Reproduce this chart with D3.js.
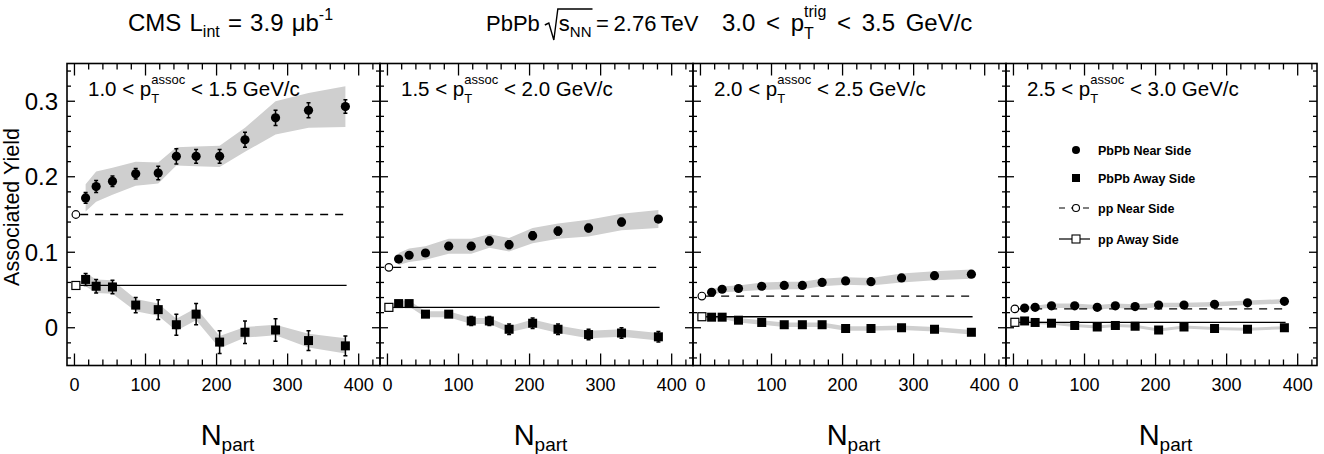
<!DOCTYPE html>
<html>
<head>
<meta charset="utf-8">
<script src="https://cdn.jsdelivr.net/npm/d3@7"></script>
<style>
  body { margin: 0; background: #fff; }
  svg { display: block; font-family: "Liberation Sans", Arial, sans-serif; }
  text { white-space: pre; }
</style>
</head>
<body>
<script>
'use strict';

// centrality bins (N_part) shared by all panels
const npart = [15.7, 30.5, 53.5, 86.2, 117.9, 143.4, 171.2, 204.3, 240.0, 283.0, 329.4, 381.3];
const ppNpart = 2;

const assocLow = ['1.0', '1.5', '2.0', '2.5'];
const assocHigh = ['1.5', '2.0', '2.5', '3.0'];

const nearYield = [
	[0.172, 0.187, 0.194, 0.204, 0.205, 0.227, 0.227, 0.227, 0.249, 0.278, 0.288, 0.293],
	[0.091, 0.096, 0.099, 0.108, 0.108, 0.115, 0.110, 0.122, 0.128, 0.132, 0.140, 0.144],
	[0.047, 0.051, 0.052, 0.055, 0.056, 0.056, 0.060, 0.062, 0.061, 0.066, 0.069, 0.071],
	[0.026, 0.027, 0.029, 0.029, 0.027, 0.029, 0.028, 0.030, 0.030, 0.031, 0.033, 0.035]
];
const nearStat = [
	[0.007, 0.008, 0.007, 0.007, 0.009, 0.010, 0.009, 0.009, 0.010, 0.010, 0.010, 0.009],
	[0.003, 0.003, 0.003, 0.004, 0.004, 0.005, 0.005, 0.005, 0.005, 0.005, 0.005, 0.004],
	[0.002, 0.002, 0.002, 0.002, 0.002, 0.002, 0.002, 0.002, 0.002, 0.002, 0.002, 0.002],
	[0.001, 0.001, 0.001, 0.001, 0.001, 0.001, 0.001, 0.001, 0.001, 0.001, 0.001, 0.001]
];
const nearSys = [
	[0.018, 0.020, 0.018, 0.016, 0.014, 0.012, 0.013, 0.014, 0.016, 0.022, 0.023, 0.027],
	[0.008, 0.009, 0.009, 0.010, 0.010, 0.009, 0.009, 0.010, 0.010, 0.011, 0.011, 0.012],
	[0.004, 0.004, 0.004, 0.005, 0.005, 0.005, 0.005, 0.005, 0.005, 0.006, 0.006, 0.006],
	[0.002, 0.002, 0.003, 0.003, 0.003, 0.003, 0.003, 0.003, 0.003, 0.003, 0.003, 0.003]
];

const awayYield = [
	[0.064, 0.055, 0.054, 0.030, 0.024, 0.004, 0.018, -0.019, -0.006, -0.003, -0.017, -0.024],
	[0.032, 0.032, 0.018, 0.018, 0.009, 0.009, -0.002, 0.006, -0.002, -0.009, -0.007, -0.012],
	[0.014, 0.014, 0.010, 0.007, 0.004, 0.004, 0.004, -0.001, -0.001, 0.000, -0.002, -0.006],
	[0.009, 0.007, 0.006, 0.003, 0.001, 0.003, 0.002, -0.003, 0.001, -0.001, -0.002, 0.000]
];
const awayStat = [
	[0.008, 0.009, 0.009, 0.010, 0.013, 0.014, 0.014, 0.015, 0.015, 0.015, 0.013, 0.013],
	[0.003, 0.003, 0.004, 0.004, 0.006, 0.006, 0.007, 0.007, 0.007, 0.007, 0.007, 0.007],
	[0.002, 0.002, 0.002, 0.002, 0.003, 0.003, 0.003, 0.003, 0.003, 0.003, 0.003, 0.003],
	[0.001, 0.001, 0.001, 0.002, 0.002, 0.002, 0.002, 0.002, 0.002, 0.002, 0.002, 0.002]
];
const awaySys = [
	[0.009, 0.009, 0.009, 0.008, 0.008, 0.008, 0.008, 0.008, 0.007, 0.007, 0.009, 0.010],
	[0.004, 0.004, 0.004, 0.004, 0.004, 0.004, 0.004, 0.005, 0.005, 0.005, 0.005, 0.005],
	[0.002, 0.002, 0.003, 0.003, 0.003, 0.003, 0.003, 0.003, 0.003, 0.003, 0.003, 0.003],
	[0.002, 0.002, 0.002, 0.002, 0.002, 0.002, 0.002, 0.002, 0.002, 0.002, 0.002, 0.002]
];

const ppNear = [0.150, 0.080, 0.042, 0.025];
const ppAway = [0.056, 0.027, 0.0146, 0.0072];

const xTickValues = [0, 100, 200, 300, 400];
const yTickValues = [0, 0.1, 0.2, 0.3];
const legendLabels = ['PbPb Near Side', 'PbPb Away Side', 'pp Near Side', 'pp Away Side'];

;(() => {
	const W = 1324, H = 454;
	const edges = [67, 380, 693, 1006, 1317];
	const top = 63.5, bottom = 365.5;

	const svg = d3.select('body').append('svg')
		.attr('width', W)
		.attr('height', H);

	// measure text widths with a scratch element
	const scratch = svg.append('text').attr('visibility', 'hidden');
	function textWidth(t, size, ws) {
		scratch.attr('font-size', size).style('word-spacing', (ws || 0) + 'px').text(t);
		return scratch.node().getComputedTextLength();
	}

	// parts: array of columns; every column is a list of {t, size, dy} drawn at the same x
	function richText(g, x, y, parts, ws) {
		let cx = x;
		parts.forEach(col => {
			let w = 0;
			col.forEach(p => {
				g.append('text')
					.attr('x', cx)
					.attr('y', y + (p.dy || 0))
					.attr('font-size', p.size)
					.style('word-spacing', (ws || 0) + 'px')
					.text(p.t);
				w = Math.max(w, textWidth(p.t, p.size, ws));
			});
			cx += w;
		});
		return cx;
	}

	const y = d3.scaleLinear().domain([-0.05, 0.35]).range([bottom, top]);

	for (let i = 0; i < 4; i++) {
		const x0 = edges[i], x1 = edges[i + 1];
		const x = d3.scaleLinear().domain([-10.5, 430]).range([x0, x0 + 313]);
		const g = svg.append('g');

		g.append('clipPath').attr('id', 'clip' + i)
			.append('rect').attr('x', x0).attr('y', top).attr('width', x1 - x0).attr('height', bottom - top);
		const plot = g.append('g').attr('clip-path', 'url(#clip' + i + ')');

		const near = npart.map((n, k) => ({ n: n, v: nearYield[i][k], s: nearStat[i][k], e: nearSys[i][k] }));
		const away = npart.map((n, k) => ({ n: n, v: awayYield[i][k], s: awayStat[i][k], e: awaySys[i][k] }));

		const band = d3.area()
			.x(d => x(d.n))
			.y0(d => y(d.v - d.e))
			.y1(d => y(d.v + d.e));

		plot.append('path').datum(near).attr('d', band).attr('fill', '#cfcfcf');
		plot.append('path').datum(away).attr('d', band).attr('fill', '#cfcfcf');

		// pp reference lines
		plot.append('line')
			.attr('x1', x(8)).attr('x2', x(383))
			.attr('y1', y(ppNear[i])).attr('y2', y(ppNear[i]))
			.attr('stroke', '#000').attr('stroke-width', 1.3)
			.attr('stroke-dasharray', '8,7');
		plot.append('line')
			.attr('x1', x(8)).attr('x2', x(383))
			.attr('y1', y(ppAway[i])).attr('y2', y(ppAway[i]))
			.attr('stroke', '#000').attr('stroke-width', 1.3);

		// stat error bars
		[near, away].forEach(series => {
			const eb = plot.selectAll(null).data(series).enter().append('g');
			eb.append('line')
				.attr('x1', d => x(d.n)).attr('x2', d => x(d.n))
				.attr('y1', d => y(d.v - d.s)).attr('y2', d => y(d.v + d.s))
				.attr('stroke', '#000').attr('stroke-width', 1.5);
			[-1, 1].forEach(sgn => {
				eb.append('line')
					.attr('x1', d => x(d.n) - 2).attr('x2', d => x(d.n) + 2)
					.attr('y1', d => y(d.v + sgn * d.s)).attr('y2', d => y(d.v + sgn * d.s))
					.attr('stroke', '#000').attr('stroke-width', 1.5);
			});
		});

		plot.selectAll('circle.near').data(near).enter().append('circle')
			.attr('cx', d => x(d.n)).attr('cy', d => y(d.v)).attr('r', 4.6)
			.attr('fill', '#000');
		plot.selectAll('rect.away').data(away).enter().append('rect')
			.attr('x', d => x(d.n) - 4.5).attr('y', d => y(d.v) - 4.5)
			.attr('width', 9).attr('height', 9)
			.attr('fill', '#000');

		// pp open markers
		plot.append('circle')
			.attr('cx', x(ppNpart)).attr('cy', y(ppNear[i])).attr('r', 3.8)
			.attr('fill', '#fff').attr('stroke', '#000').attr('stroke-width', 1.2);
		plot.append('rect')
			.attr('x', x(ppNpart) - 4).attr('y', y(ppAway[i]) - 4)
			.attr('width', 8).attr('height', 8)
			.attr('fill', '#fff').attr('stroke', '#000').attr('stroke-width', 1.2);

		// ticks on all four sides, pointing inward
		const xMinor = d3.range(0, 430, 20);
		g.selectAll(null).data(xMinor).enter().append('line')
			.attr('x1', d => x(d)).attr('x2', d => x(d))
			.attr('y1', bottom).attr('y2', d => bottom - (d % 100 === 0 ? 12 : 6))
			.attr('stroke', '#000').attr('stroke-width', 1.3);
		g.selectAll(null).data(xMinor).enter().append('line')
			.attr('x1', d => x(d)).attr('x2', d => x(d))
			.attr('y1', top).attr('y2', d => top + (d % 100 === 0 ? 12 : 6))
			.attr('stroke', '#000').attr('stroke-width', 1.3);

		const yMinor = d3.range(-0.04, 0.35, 0.02).map(v => Math.round(v * 100) / 100);
		[[x0, 1], [x1, -1]].forEach(side => {
			g.selectAll(null).data(yMinor).enter().append('line')
				.attr('x1', side[0])
				.attr('x2', d => side[0] + side[1] * (Math.round(d * 100) % 10 === 0 ? 8 : 4))
				.attr('y1', d => y(d)).attr('y2', d => y(d))
				.attr('stroke', '#000').attr('stroke-width', 1.3);
		});

		g.append('rect')
			.attr('x', x0).attr('y', top)
			.attr('width', x1 - x0).attr('height', bottom - top)
			.attr('fill', 'none').attr('stroke', '#000').attr('stroke-width', 1.6);

		// x tick labels
		g.selectAll(null).data(xTickValues).enter().append('text')
			.attr('x', d => x(d)).attr('y', 391)
			.attr('text-anchor', 'middle')
			.attr('font-size', 18)
			.text(d => d);

		// N_part title
		const nt = g.append('g');
		const wN = textWidth('N', 29) + textWidth('part', 19);
		richText(nt, (x0 + x1) / 2 + 4 - wN / 2, 445, [[{ t: 'N', size: 29 }], [{ t: 'part', size: 19, dy: 6 }]]);

		// panel label
		richText(g, x0 + 21, 96, [
			[{ t: assocLow[i] + ' < p', size: 20.5 }],
			[{ t: 'T', size: 13, dy: 7 }, { t: 'assoc', size: 13, dy: -12 }],
			[{ t: ' < ' + assocHigh[i] + ' GeV/c', size: 20.5 }]
		]);

		if (i === 0) {
			g.selectAll(null).data(yTickValues).enter().append('text')
				.attr('x', 58).attr('y', d => y(d) + 8.5)
				.attr('text-anchor', 'end')
				.attr('font-size', 24)
				.text(d => d === 0 ? '0' : d.toFixed(1));
		}

		if (i === 3) {
			const lx = 1076, tx = 1098;
			const rows = [150, 178, 208, 239];
			const lg = g.append('g');
			lg.append('circle').attr('cx', lx).attr('cy', rows[0]).attr('r', 4).attr('fill', '#000');
			lg.append('rect').attr('x', lx - 4).attr('y', rows[1] - 4).attr('width', 8).attr('height', 8).attr('fill', '#000');
			lg.append('line').attr('x1', lx - 17).attr('x2', lx + 13).attr('y1', rows[2]).attr('y2', rows[2])
				.attr('stroke', '#000').attr('stroke-width', 1.2).attr('stroke-dasharray', '6,6');
			lg.append('circle').attr('cx', lx).attr('cy', rows[2]).attr('r', 3.5)
				.attr('fill', '#fff').attr('stroke', '#000').attr('stroke-width', 1.1);
			lg.append('line').attr('x1', lx - 17).attr('x2', lx + 14).attr('y1', rows[3]).attr('y2', rows[3])
				.attr('stroke', '#000').attr('stroke-width', 1.2);
			lg.append('rect').attr('x', lx - 4).attr('y', rows[3] - 4).attr('width', 8).attr('height', 8)
				.attr('fill', '#fff').attr('stroke', '#000').attr('stroke-width', 1.1);
			lg.selectAll(null).data(legendLabels).enter().append('text')
				.attr('x', tx).attr('y', (d, k) => rows[k] + 4.5)
				.attr('font-size', 12.5).attr('font-weight', 'bold')
				.text(d => d);
		}
	}

	// y axis title
	svg.append('text')
		.attr('transform', 'translate(19,207) rotate(-90)')
		.attr('text-anchor', 'middle')
		.attr('font-size', 21.5)
		.text('Associated Yield');

	// header
	const hg = svg.append('g');
	richText(hg, 128, 31, [
		[{ t: 'CMS L', size: 24 }],
		[{ t: 'int', size: 16, dy: 6 }],
		[{ t: ' = 3.9 \u03bcb', size: 24 }],
		[{ t: '-1', size: 16, dy: -11 }]
	], 1.5);

	const px = richText(hg, 486, 31, [[{ t: 'PbPb', size: 22 }]]) + 5;
	const sx = px + 14;
	const ex = richText(hg, sx, 31, [
		[{ t: 's', size: 22 }],
		[{ t: 'NN', size: 15, dy: 6 }]
	]);
	hg.append('path')
		.attr('d', `M${px},25 L${px + 4},23 L${px + 9},40 L${px + 13},9 L${ex + 1},9`)
		.attr('fill', 'none').attr('stroke', '#000').attr('stroke-width', 1.4);
	richText(hg, ex, 31, [[{ t: ' = 2.76 TeV', size: 22 }]], -1.5);

	richText(hg, 722, 31, [
		[{ t: '3.0 < p', size: 24 }],
		[{ t: 'T', size: 16, dy: 8 }, { t: 'trig', size: 16, dy: -14 }],
		[{ t: ' < 3.5 GeV/c', size: 24 }]
	], 4);

	scratch.remove();
})();
</script>
</body>
</html>
